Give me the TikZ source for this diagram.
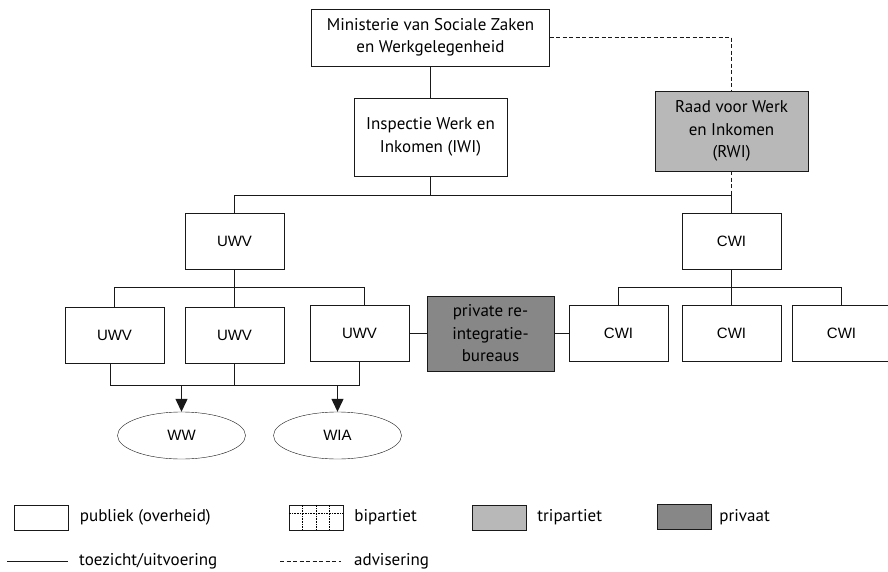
\documentclass[tikz,border=0pt]{standalone}
\usepackage{fontspec}
\setmainfont{PT Sans}
\newfontfamily\arialfont{Liberation Sans}
\usetikzlibrary{positioning, arrows.meta, shapes.geometric}
\tikzset{
        x=1pt, y=-1pt,
        line width=1.2pt,
        font=\fontsize{17}{22.5}\selectfont,
        org/.style={draw=black!90, fill=white, align=center, inner sep=0pt},
        unit/.style={org, minimum width=99pt, minimum height=56pt, font=\arialfont\fontsize{15}{18}\selectfont},
        tri/.style={fill=black!28},  % tripartiet
        priv/.style={fill=black!47}, % privaat
        lnk/.style={draw=black!90, line width=1.2pt},
        adv/.style={draw=black!90, line width=1.2pt, dash pattern=on 4pt off 2.5pt},
        leg/.style={draw=black!90, minimum width=54pt, minimum height=25pt, inner sep=0pt},
        legtext/.style={anchor=west, inner sep=0pt}
        }
\begin{document}
\begin{tikzpicture}
        \useasboundingbox (0,0) rectangle (888,572);
        % top of the hierarchy
        \node[org, minimum width=238pt, minimum height=57pt](min) at (430.5,37.5){Ministerie van Sociale Zaken\\en Werkgelegenheid};
        \node[org, minimum width=153pt, minimum height=78pt](iwi) at (430.5,137){Inspectie Werk en\\Inkomen (IWI)};
        \node[org, tri, minimum width=153pt, minimum height=80pt](rwi) at (731.5,131){Raad voor Werk\\en Inkomen\\(RWI)};
        % uitvoering
        \node[unit](uwv) at (234.5,241){UWV};
        \node[unit](cwi) at (731.5,241){CWI};
        \node[unit](uwv1) at (114.5,335){UWV};
        \node[unit](uwv2) at (234.5,335){UWV};
        \node[unit](uwv3) at (359.5,333.5){UWV};
        \node[org, priv, minimum width=127pt, minimum height=75pt](reint) at (490.5,333.5){private re-\\integratie-\\bureaus};
        \node[unit](cwi1) at (618.5,333.5){CWI};
        \node[unit](cwi2) at (731.5,333.5){CWI};
        \node[unit](cwi3) at (841.5,333.5){CWI};
        \node[ellipse, org, minimum width=128pt, minimum height=47pt, font=\arialfont\fontsize{15}{18}\selectfont](ww) at (181.5,435.5){WW};
        \node[ellipse, org, minimum width=128pt, minimum height=47pt, font=\arialfont\fontsize{15}{18}\selectfont](wia) at (337.5,435.5){WIA};
        \coordinate(split) at (731.5,195.5);
        \coordinate(ubus) at (0,287.5);
        \coordinate(wbus) at (0,385.5);

        \draw[lnk] (min)--(iwi);
        \draw[lnk] (iwi.south)--(iwi.south|-split);
        \draw[lnk] (uwv.north)|-(split)--(cwi.north);
        \draw[adv] (min.east)-|(rwi.north) (rwi.south)--(split);
        \draw[lnk] (uwv)--(uwv.south|-ubus) (uwv1.north)|-(ubus-|uwv)-|([xshift=5pt]uwv3.north)
              (uwv2)--(uwv2.north|-ubus);
        \draw[lnk] (cwi)--(cwi.south|-ubus) (cwi1.north)|-(cwi.south|-ubus)-|(cwi3.north)
              (cwi2)--(cwi2.north|-ubus);
        \draw[lnk] (uwv3)--(reint) (reint)--(cwi1);
        \draw[lnk] ([xshift=-4pt]uwv1.south)|-(wbus-|uwv2)-|(uwv3.south) (uwv2)--(uwv2.south|-wbus);
        \draw[lnk, -{Triangle[width=12pt,length=13pt]}] (ww.north|-wbus)--(ww.north);
        \draw[lnk, -{Triangle[width=12pt,length=13pt]}] (wia.north|-wbus)--(wia.north);

        % legenda
        \node[leg, fill=white](l1) at (41.5,517.5){};
        \node[legtext, right=11pt of l1](t1){publiek (overheid)};
        \node[leg, fill=white](l2) at (316,517.5){};
        \draw[densely dotted, line width=0.6pt] (l2.north west)++(0,8)--++(54,0)
              (l2.north west)++(13.5,0)--++(0,25) (l2.north west)++(27,0)--++(0,25) (l2.north west)++(40.5,0)--++(0,25);
        \node[legtext, right=11pt of l2](t2){bipartiet};
        \node[leg, tri](l3) at (499,517.5){};
        \node[legtext, right=11pt of l3](t3){tripartiet};
        \node[leg, priv](l4) at (684,517){};
        \node[legtext, right=8pt of l4](t4){privaat};
        \coordinate(s1) at (7,561.5);
        \coordinate(s2) at (68,561.5);
        \draw[lnk] (s1)--(s2);
        \node[legtext, right=11pt of s2](t5){toezicht/uitvoering};
        \coordinate(d1) at (280,561.5);
        \coordinate(d2) at (341,561.5);
        \draw[adv] (d1)--(d2);
        \node[legtext, right=13pt of d2](t6){advisering};
      \end{tikzpicture}
\end{document}
